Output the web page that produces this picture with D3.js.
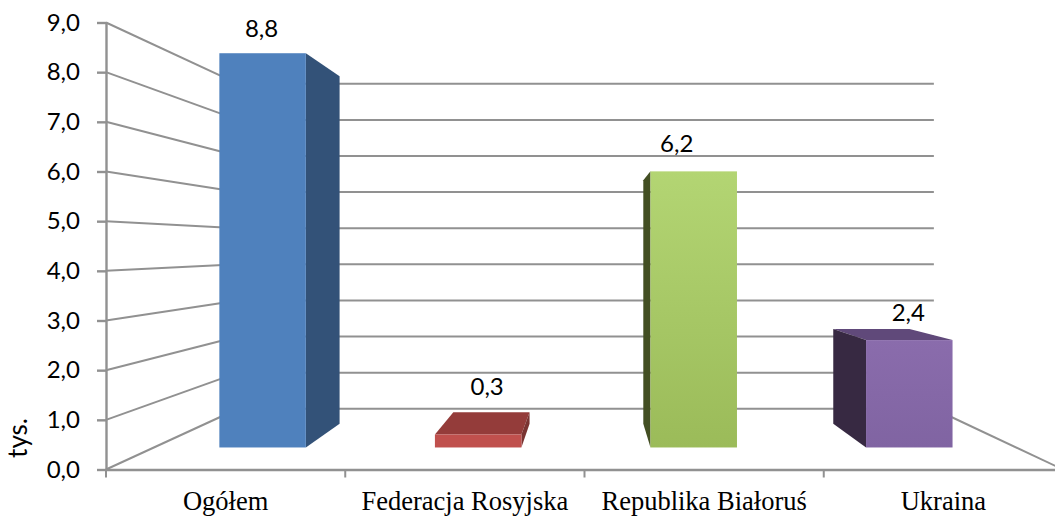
<!DOCTYPE html>
<html><head><meta charset="utf-8">
<script src="https://cdn.jsdelivr.net/npm/d3@7"></script>
<style>html,body{margin:0;padding:0;background:#fff;overflow:hidden}svg{display:block}</style>
</head><body><svg id="c" width="1055" height="517"></svg>
<script>
const categories = ["Ogółem", "Federacja Rosyjska", "Republika Białoruś", "Ukraina"];
const values = [8.81, 0.29, 6.17, 2.4];
const yTicks = [0,1,2,3,4,5,6,7,8,9];
const axisTitle = "tys.";
const frontColors = [["#4f81bd","#4f81bd"],["#c0504d","#c0504d"],["#b3d573","#9bbb59"],["#8a6cac","#8064a2"]];
const sideColors = ["#335278","#7a3432","#434f23","#372942"];
const topColors = ["#385d8a","#943c3a","#6f8a3f","#60497a"];
// label placement relative to the front-top centre of each bar
const labelNudge = [[-1,-25],[9,-48],[-17,-28],[-1,-27]];

const svg = d3.select("#c");
const fmt = v => d3.format(".1f")(v).replace(".", ",");

// front plane scales
const y = d3.scaleLinear().domain([0,9]).range([469.5,22.5]);
const x = d3.scaleBand().domain(categories).range([106,1063]).paddingInner(0).paddingOuter(0);
const V = [590,247], sBack = 0.727, sBarFront = 0.901, sBarBack = 0.794;
const project = (px,py,s) => [V[0]+(px-V[0])*s, V[1]+(py-V[1])*s];
const gridColor = "#919191";

const defs = svg.append("defs");
frontColors.forEach((c,i)=>{
  const g = defs.append("linearGradient").attr("id","g"+i).attr("x1",0).attr("y1",0).attr("x2",0).attr("y2",1);
  g.append("stop").attr("offset",0).attr("stop-color",c[0]);
  g.append("stop").attr("offset",1).attr("stop-color",c[1]);
});

// back wall + side wall lines
const grid = svg.append("g").attr("fill","none").attr("stroke",gridColor).attr("stroke-width",2);
grid.selectAll("line.b").data(yTicks).join("line").attr("class","b")
  .attr("x1",d=>project(x.range()[0],y(d),sBack)[0]).attr("x2",d=>project(x.range()[1],y(d),sBack)[0])
  .attr("y1",d=>project(0,y(d),sBack)[1]).attr("y2",d=>project(0,y(d),sBack)[1]);
grid.selectAll("line.s").data(yTicks).join("line").attr("class","s")
  .attr("x1",x.range()[0]).attr("y1",d=>y(d))
  .attr("x2",d=>project(x.range()[0],y(d),sBack)[0]).attr("y2",d=>project(0,y(d),sBack)[1]);
grid.append("line")
  .attr("x1",x.range()[1]).attr("y1",y(0))
  .attr("x2",project(x.range()[1],y(0),sBack)[0]).attr("y2",project(0,y(0),sBack)[1]);

// axes
const axisStyle = g => { g.selectAll("path,line").attr("stroke","#919191").attr("stroke-width",2.4); g.select(".domain").attr("fill","none"); };
const gy = svg.append("g").attr("transform","translate(106,0)")
  .call(d3.axisLeft(y).tickValues(yTicks).tickFormat(fmt).tickSize(9).tickPadding(17).tickSizeOuter(0));
gy.call(axisStyle);
gy.selectAll("text").attr("font-family","Lato, sans-serif").attr("font-size",24).attr("fill","#000");

const gx = svg.append("g").attr("transform",`translate(0,${y(0)})`)
  .call(d3.axisBottom(x).tickSize(0).tickPadding(21.5));
gx.select(".domain").attr("stroke","#919191").attr("stroke-width",2.4);
gx.selectAll("text").attr("font-family","'Liberation Serif', serif").attr("font-size",26.5).attr("fill","#000");
gx.selectAll("line.sep").data(categories).join("line").attr("class","sep")
  .attr("x1",d=>x(d)).attr("x2",d=>x(d)).attr("y1",0).attr("y2",8)
  .attr("stroke","#919191").attr("stroke-width",2);

svg.append("text").text(axisTitle)
  .attr("transform","translate(27,438) rotate(-90)")
  .attr("text-anchor","middle").attr("font-family","Lato, sans-serif").attr("font-size",26).attr("fill","#000");

// bars
const barW = 96, barShift = 1;
const bars = svg.append("g");
const poly = pts => pts.map(p=>p.join(",")).join(" ");
categories.forEach((c,i)=>{
  const cx = x(c)+x.bandwidth()/2+barShift, L = cx-barW/2, R = cx+barW/2, T = y(values[i]), B = y(0);
  const f = (px,py)=>project(px,py,sBarFront), b = (px,py)=>project(px,py,sBarBack);
  const g = bars.append("g");
  if (T > V[1]) g.append("polygon").attr("points",poly([f(L,T),f(R,T),b(R,T),b(L,T)])).attr("fill",topColors[i]);
  if (R < V[0]) g.append("polygon").attr("points",poly([f(R,T),b(R,T),b(R,B),f(R,B)])).attr("fill",sideColors[i]);
  if (L > V[0]) g.append("polygon").attr("points",poly([f(L,T),b(L,T),b(L,B),f(L,B)])).attr("fill",sideColors[i]);
  const a = f(L,T), d = f(R,B);
  g.append("rect").attr("x",a[0]).attr("y",a[1]).attr("width",d[0]-a[0]).attr("height",d[1]-a[1]).attr("fill",`url(#g${i})`);
  svg.append("text").text(fmt(values[i]))
    .attr("x",(a[0]+d[0])/2+labelNudge[i][0]).attr("y",a[1]+labelNudge[i][1])
    .attr("dy","0.35em").attr("text-anchor","middle")
    .attr("font-family","Lato, sans-serif").attr("font-size",24).attr("fill","#000");
});
</script></body></html>
